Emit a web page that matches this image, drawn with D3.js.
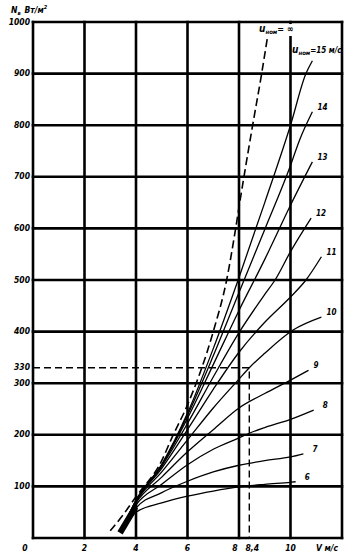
<!DOCTYPE html>
<html>
<head>
<meta charset="utf-8">
<script src="https://cdn.jsdelivr.net/npm/d3@7"></script>
<style>
  body { margin: 0; background: #fff; }
  text { font-family: 'DejaVu Sans Condensed', 'Liberation Sans Narrow', sans-serif; font-style: italic; font-weight: bold; fill: #000; }
</style>
</head>
<body>
<div id="chart"></div>
<script>
// grid / ticks
const xGrid = [0, 2, 4, 6, 8, 10, 12]
const yGrid = [0, 100, 200, 300, 400, 500, 600, 700, 800, 900, 1000]
const xTickValues = [0, 2, 4, 6, 8, 8.4, 10]
const xTickLabels = ['0', '2', '4', '6', '8', '8,4', '10']
const yTickValues = [100, 200, 300, 330, 400, 500, 600, 700, 800, 900, 1000]

// example read-off: V = 8.4 m/s, N = 330 W/m2
const guideV = 8.4
const guideN = 330

// u_nom = infinity (dashed)
const vInf = [3.0, 3.5, 4, 5, 5.4, 6, 7, 7.52, 7.87, 8.0, 8.53, 8.88, 9.1]
const nInf = [14, 45, 80, 150, 195, 258, 400, 500, 600, 641, 800, 900, 969]

// solid curves, u_nom = 15 ... 6 m/s
const curveNames = ['15', '14', '13', '12', '11', '10', '9', '8', '7', '6']
const v15 = [3.45, 4, 5, 6, 7, 8, 9, 10, 10.6, 10.85]
const n15 = [15, 73, 143, 242, 367, 505, 650, 800, 900, 925]
const v14 = [3.45, 4, 5, 6, 7, 8, 9, 10, 10.35, 10.85]
const n14 = [15, 73, 142, 238, 353, 476, 598, 722, 771, 826]
const v13 = [3.45, 4, 5, 6, 7, 8, 9, 10, 10.85]
const n13 = [15, 72, 141, 232, 336, 441, 540, 645, 729]
const v12 = [3.45, 4, 5, 6, 7, 8, 9, 9.4, 10, 10.8]
const n12 = [15, 72, 139, 222, 312, 398, 472, 500, 555, 620]
const v11 = [3.45, 4, 5, 6, 7, 8, 9, 10, 10.6, 11.2]
const n11 = [15, 71, 135, 210, 288, 360, 418, 467, 500, 545]
const v10 = [3.45, 4, 5, 6, 7, 8, 8.4, 9, 10.1, 11.2]
const n10 = [15, 70, 128, 190, 252, 308, 330, 358, 403, 428]
const v9 = [3.45, 4, 5, 6, 7, 8, 9, 10, 10.7]
const n9 = [15, 68, 118, 167, 210, 252, 280, 306, 325]
const v8 = [3.45, 4, 5, 6, 7, 8, 8.4, 9, 10, 10.9]
const n8 = [15, 64, 104, 142, 172, 194, 203, 214, 230, 248]
const v7 = [3.45, 4, 5, 6, 7, 8, 9, 10, 10.5]
const n7 = [15, 58, 88, 110, 128, 141, 150, 157, 163]
const v6 = [3.45, 4, 5, 6, 7, 8, 9, 10, 10.2]
const n6 = [15, 50, 68, 81, 91, 99, 104, 108, 109]

// the dense bundle where all curves start
const bundleV = [3.38, 3.98]
const bundleN = [10, 60]

const curveV = [v15, v14, v13, v12, v11, v10, v9, v8, v7, v6]
const curveN = [n15, n14, n13, n12, n11, n10, n9, n8, n7, n6]

const width = 350
const height = 558

const x = d3.scaleLinear().domain([0, 12]).range([33, 342])
const y = d3.scaleLinear().domain([0, 1000]).range([538, 22])

const svg = d3.select('#chart').append('svg')
  .attr('width', width)
  .attr('height', height)

const line = d3.line()
  .x(d => x(d[0]))
  .y(d => y(d[1]))
  .curve(d3.curveMonotoneX)

const zip = (vs, ns) => vs.map((v, i) => [v, ns[i]])

// grid
const grid = svg.append('g').attr('stroke', '#000').attr('stroke-width', 2.6)
grid.selectAll('line.v').data(xGrid).join('line')
  .attr('class', 'v')
  .attr('x1', d => x(d)).attr('x2', d => x(d))
  .attr('y1', y(0) + 1.3).attr('y2', y(1000) - 1.3)
grid.selectAll('line.h').data(yGrid).join('line')
  .attr('class', 'h')
  .attr('x1', x(0) - 1.3).attr('x2', x(12) + 1.3)
  .attr('y1', d => y(d)).attr('y2', d => y(d))

// guide lines for 330 at 8.4
svg.append('path')
  .attr('d', d3.line()([[x(0), y(guideN)], [x(guideV), y(guideN)], [x(guideV), y(0)]]))
  .attr('fill', 'none')
  .attr('stroke', '#000')
  .attr('stroke-width', 1.4)
  .attr('stroke-dasharray', '7,4')

// curves
svg.append('g').selectAll('path').data(curveV).join('path')
  .attr('d', (vs, i) => line(zip(vs, curveN[i])))
  .attr('fill', 'none')
  .attr('stroke', '#000')
  .attr('stroke-width', 1.3)

svg.append('path')
  .attr('d', d3.line()(zip(bundleV, bundleN).map(d => [x(d[0]), y(d[1])])))
  .attr('stroke', '#000')
  .attr('stroke-width', 6)

svg.append('path')
  .attr('d', line(zip(vInf, nInf)))
  .attr('fill', 'none')
  .attr('stroke', '#000')
  .attr('stroke-width', 1.6)
  .attr('stroke-dasharray', '8,4')

// curve labels (15 is labelled at the top)
svg.append('g').selectAll('text').data(curveNames.slice(1)).join('text')
  .attr('x', (d, i) => x(curveV[i + 1][curveV[i + 1].length - 1]) + (i > 5 ? 9 : 5))
  .attr('y', (d, i) => y(curveN[i + 1][curveN[i + 1].length - 1]) - 2)
  .attr('font-size', 8)
  .text(d => d)

// u_nom labels
const uInf = svg.append('g')
const uInfText = uInf.append('text').attr('x', 259).attr('y', 32).attr('font-size', 9)
uInfText.append('tspan').attr('font-size', 10).text('u')
uInfText.append('tspan').attr('font-size', 6).attr('dy', 2).text('ном')
uInfText.append('tspan').attr('dy', -2).text('= ∞')
const bb = uInfText.node().getBBox()
uInf.insert('rect', 'text')
  .attr('x', bb.x - 1).attr('y', 24)
  .attr('width', bb.width + 2).attr('height', 12)
  .attr('fill', '#fff')

const u15 = svg.append('text').attr('x', 292).attr('y', 53).attr('font-size', 8)
u15.append('tspan').attr('font-size', 10).text('u')
u15.append('tspan').attr('font-size', 6).attr('dy', 2).text('ном')
u15.append('tspan').attr('dy', -2).text('=' + curveNames[0] + ' м/с')

// y tick labels
svg.append('g').selectAll('text').data(yTickValues).join('text')
  .attr('x', 30)
  .attr('y', d => y(d) + 2.5)
  .attr('text-anchor', 'end')
  .attr('font-size', 8.5)
  .text(d => d)

// x tick labels
const xShift = { '0': -8, '8': -4, '8,4': 3 }
svg.append('g').selectAll('text').data(xTickValues).join('text')
  .attr('x', (d, i) => x(d) + (xShift[xTickLabels[i]] || 0))
  .attr('y', 551)
  .attr('text-anchor', 'middle')
  .attr('font-size', 8.5)
  .text((d, i) => xTickLabels[i])

svg.append('text')
  .attr('x', 316).attr('y', 551)
  .attr('font-size', 8.5)
  .text('V м/с')

// y axis title
const yTitle = svg.append('text').attr('x', 11).attr('y', 13).attr('font-size', 8.5)
yTitle.append('tspan').text('N')
yTitle.append('tspan').attr('font-size', 5.5).attr('dy', 1.5).text('в')
yTitle.append('tspan').attr('dy', -1.5).attr('dx', 4).text('Вт/м')
yTitle.append('tspan').attr('font-size', 5.5).attr('dy', -4).text('2')
</script>
</body>
</html>
